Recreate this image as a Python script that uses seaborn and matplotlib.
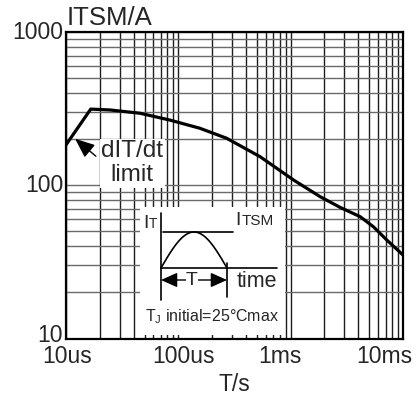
import numpy as np
import pandas as pd
import matplotlib
matplotlib.use("Agg")
import matplotlib.pyplot as plt
import matplotlib.transforms as mtransforms
from matplotlib.patches import FancyArrowPatch
from matplotlib.ticker import LogLocator, NullFormatter
import seaborn as sns

# Non-repetitive surge peak on-state current vs. pulse width
pulse_width_s = [1.0e-5, 1.66e-5, 2.46e-5, 4.56e-5, 8.43e-5, 1.56e-4, 2.70e-4,
                 5.34e-4, 1.06e-3, 1.83e-3, 2.75e-3, 4.15e-3, 5.45e-3, 7.17e-3, 1.0e-2]
surge_current_a = [184, 315, 311, 296, 267, 236, 203,
                   154, 108.5, 84.4, 71.9, 62.5, 53.7, 44.0, 35.1]

x_tick_values = [1e-5, 1e-4, 1e-3, 1e-2]
x_tick_labels = ["10us", "100us", "1ms", "10ms"]
y_tick_values = [10, 100, 1000]
y_tick_labels = ["10", "100", "1000"]

sns.set_style("white")
plt.rcParams["font.family"] = ["Liberation Sans", "DejaVu Sans"]
plt.rcParams["mathtext.fontset"] = "custom"
plt.rcParams["mathtext.rm"] = "Liberation Sans"
plt.rcParams["mathtext.it"] = "Liberation Sans"

DPI = 100
fig = plt.figure(figsize=(4.16, 3.96), dpi=DPI)
ax = fig.add_axes([66 / 416, 57.5 / 396, 337 / 416, 306.2 / 396])
ax.set_xscale("log")
ax.set_yscale("log")
ax.set_xlim(x_tick_values[0], x_tick_values[-1])
ax.set_ylim(y_tick_values[0], y_tick_values[-1])

df = pd.DataFrame({"T": pulse_width_s, "ITSM": surge_current_a})
sns.lineplot(data=df, x="T", y="ITSM", ax=ax, color="black",
             linewidth=2.3, sort=False, zorder=5)

ax.set_xticks(x_tick_values, x_tick_labels)
ax.set_yticks(y_tick_values, y_tick_labels)
ax.xaxis.set_minor_locator(LogLocator(base=10, subs=np.arange(2, 10)))
ax.yaxis.set_minor_locator(LogLocator(base=10, subs=np.arange(2, 10)))
ax.xaxis.set_minor_formatter(NullFormatter())
ax.yaxis.set_minor_formatter(NullFormatter())
ax.tick_params(which="both", length=0)
ax.tick_params(axis="x", pad=4.5, labelsize=16.5)
ax.tick_params(axis="y", pad=2, labelsize=16.5)

ax.grid(which="both", axis="x", color="#1e1e1e", linewidth=1.0)
ax.grid(which="both", axis="y", color="#6a6a6a", linewidth=1.0)
ax.set_axisbelow(True)
for s in ax.spines.values():
    s.set_visible(True)
    s.set_color("black")
    s.set_linewidth(1.6)

# nudge the tick labels the way the sheet lays them out
def shift(dx_px, dy_px):
    return mtransforms.ScaledTranslation(dx_px / DPI, dy_px / DPI, fig.dpi_scale_trans)

for lab, dx in zip(ax.get_xticklabels(), [0.7, 5, -10.7, -19]):
    lab.set_transform(lab.get_transform() + shift(dx, 0))
for lab, dy in zip(ax.get_yticklabels(), [6, 2, 2]):
    lab.set_transform(lab.get_transform() + shift(0, dy))

ax.set_xlabel("T/s", fontsize=16.5, labelpad=3.5)
ax.set_ylabel("")
ax.text(0, 1, "ITSM/A", transform=ax.transAxes + shift(0.7, 7),
        ha="left", va="baseline", fontsize=18.5)

# dI/dt limit note with arrow to the rising edge
ax.text(0.196, 0.572, "dIT/dt\nlimit", transform=ax.transAxes, ha="center",
        va="center", multialignment="center", fontsize=17.5, linespacing=1.12,
        bbox=dict(facecolor="white", edgecolor="none", pad=1.0), zorder=4)
arrow = FancyArrowPatch((0.095, 0.5895), (0.0208, 0.658), transform=ax.transAxes,
                        arrowstyle="-|>,head_length=12,head_width=5",
                        color="black", linewidth=1.0, zorder=6)
ax.add_patch(arrow)

# inset: half-sine pulse definition
ins = ax.inset_axes([(140 - 66) / 337, (338.5 - 335) / 306.2,
                     145 / 337, 128 / 306.2])
ins.set_facecolor("white")
ins.set_xlim(0, 145)
ins.set_ylim(128, 0)
ins.set_xticks([])
ins.set_yticks([])
for s in ins.spines.values():
    s.set_visible(False)

lw = 1.2
ins.plot([21, 21], [6, 93], color="black", lw=lw)
ins.plot([23, 93], [25, 25], color="black", lw=lw)
ins.plot([21, 137], [61, 61], color="black", lw=lw)
ins.plot([87, 87], [56, 90], color="black", lw=lw)
xs = np.linspace(21, 87, 80)
ins.plot(xs, 61 - 36 * np.sin(np.pi * (xs - 21) / 66), color="black", lw=lw)
ins.add_patch(FancyArrowPatch((21, 73), (87, 73),
                              arrowstyle="<|-|>,head_length=10,head_width=4.5",
                              color="black", linewidth=1.0, shrinkA=0, shrinkB=0))
ins.text(52, 73.5, "T", ha="center", va="center", fontsize=14,
         bbox=dict(facecolor="white", edgecolor="none", pad=0.2))
ins.text(3, 21, "I", ha="left", va="baseline", fontsize=14)
ins.text(8.5, 21, "T", ha="left", va="baseline", fontsize=10)
ins.text(95.7, 18.5, "I", ha="left", va="baseline", fontsize=14)
ins.text(101.5, 18.5, "TSM", ha="left", va="baseline", fontsize=11)
ins.text(96.7, 80, "time", ha="left", va="baseline", fontsize=15.5)
ins.text(72.5, 114.7, r"T$_\mathregular{J}$ initial=25°Cmax", ha="center",
         va="baseline", fontsize=11.5)

fig.savefig("out.png", dpi=DPI)
